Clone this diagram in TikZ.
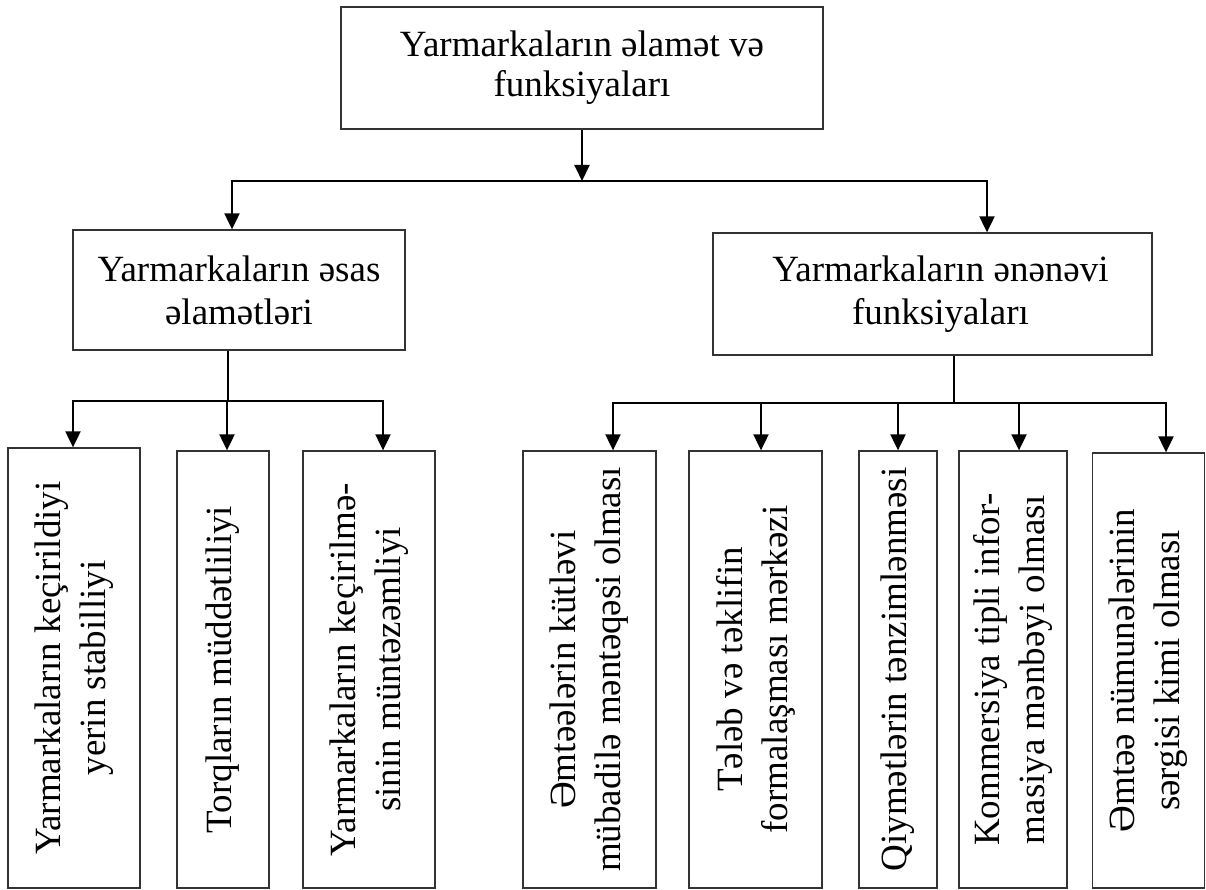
\documentclass[tikz,border=0pt]{standalone}
\usepackage{fontspec}
\setmainfont{Liberation Serif}
\usetikzlibrary{arrows.meta}
\begin{document}
\begin{tikzpicture}[x=1pt,y=-1pt,
  box/.style={draw=black!80, line width=1.3pt, rectangle, inner sep=0pt, align=center, font=\fontsize{37}{40}\selectfont},
  hbox/.style={box, font=\fontsize{37}{43}\selectfont},
  vbox/.style={box, rotate=90, font=\fontsize{37}{45}\selectfont},
  arr/.style={line width=2pt, -{Triangle[length=16pt,width=15pt]}},
  ln/.style={line width=2pt, line cap=rect},
  stem/.style={line width=1.2pt}]
\useasboundingbox (0,0) rectangle (1206,890);
% top level
\node[box, minimum width=482pt, minimum height=122pt] (top) at (582,68) {Yarmarkaların əlamət və\\funksiyaları};
% second level
\node[hbox, minimum width=332pt, minimum height=120pt] (L) at (239,290) {Yarmarkaların əsas\\əlamətləri};
\node[hbox, minimum width=439pt, minimum height=122pt] (R) at (932.5,294) {\hspace*{16pt}Yarmarkaların ənənəvi\\\hspace*{16pt}funksiyaları};
% third level (vertical boxes)
\node[vbox, minimum width=440pt, minimum height=132pt] (b1) at (74,668) {Yarmarkaların keçirildiyi\\yerin stabilliyi};
\node[vbox, minimum width=437pt, minimum height=92pt] (b2) at (223,669.5) {Torqların müddətliliyi};
\node[vbox, minimum width=437pt, minimum height=132pt] (b3) at (369,669.5) {Yarmarkaların keçirilmə-\\sinin müntəzəmliyi};
\node[vbox, minimum width=437pt, minimum height=133pt] (b4) at (589.5,669.5) {Əmtəələrin kütləvi\\mübadilə məntəqəsi olması};
\node[vbox, minimum width=437pt, minimum height=133pt] (b5) at (755.5,669.5) {Tələb və təklifin\\formalaşması mərkəzi};
\node[vbox, minimum width=437pt, minimum height=78pt] (b6) at (898,669.5) {Qiymətlərin tənzimlənməsi};
\node[vbox, minimum width=437pt, minimum height=108pt] (b7) at (1013,669.5) {Kommersiya tipli infor-\\masiya mənbəyi olması};
\node[vbox, minimum width=435pt, minimum height=112pt] (b8) at (1148.5,670.5) {Əmtəə nümunələrinin\\sərgisi kimi olması};
% level 1 -> 2
\coordinate (a1) at (232,181);
\coordinate (a2) at (987,181);
\draw[arr] (top.south) -- (top.south |- a1);
\draw[ln] (a1) -- (a2);
\draw[arr] (a1) -- (a1 |- L.north);
\draw[arr] (a2) -- (a2 |- R.north);
% left branch
\coordinate (ls) at (228,401);
\coordinate (l1) at (73,401);
\coordinate (l2) at (227,401);
\coordinate (l3) at (383,401);
\draw[stem] (ls |- L.south) -- (ls);
\draw[ln] (l1) -- (l3);
\draw[arr] (l1) -- (l1 |- b1.east);
\draw[arr] (l2) -- (l2 |- b2.east);
\draw[arr] (l3) -- (l3 |- b3.east);
% right branch
\coordinate (rs) at (954,403);
\coordinate (r1) at (613,403);
\coordinate (r2) at (761,403);
\coordinate (r3) at (898,403);
\coordinate (r4) at (1019,403);
\coordinate (r5) at (1166,403);
\draw[stem] (rs |- R.south) -- (rs);
\draw[ln] (r1) -- (r5);
\draw[arr] (r1) -- (r1 |- b4.east);
\draw[arr] (r2) -- (r2 |- b5.east);
\draw[arr] (r3) -- (r3 |- b6.east);
\draw[arr] (r4) -- (r4 |- b7.east);
\draw[arr] (r5) -- (r5 |- b8.east);
\end{tikzpicture}
\end{document}
